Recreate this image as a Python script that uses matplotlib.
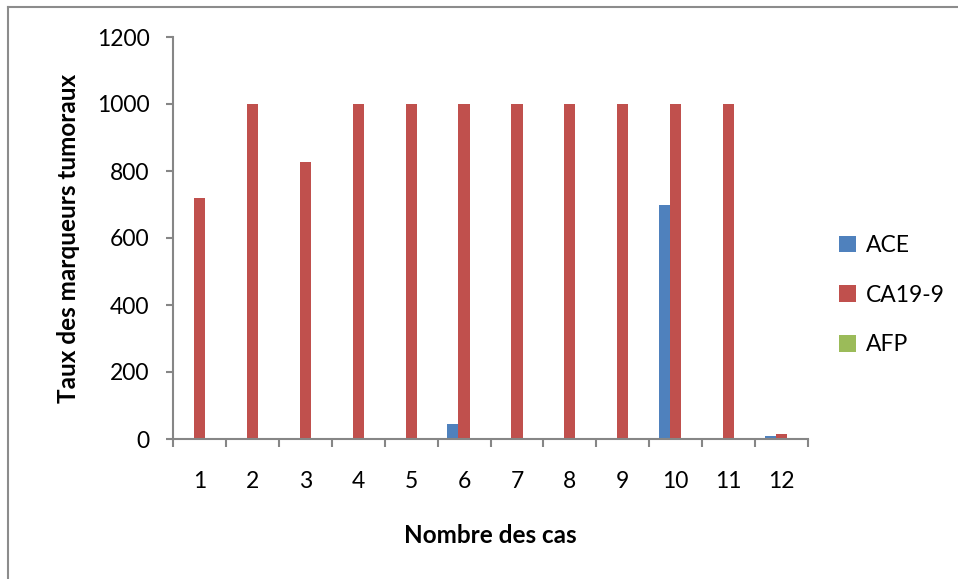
import matplotlib.pyplot as plt
import numpy as np
from matplotlib.lines import Line2D

cases = [str(i) for i in range(1, 13)]
ace = [0, 0, 0, 0, 1, 45, 0, 2, 0, 700, 0, 8]
ca199 = [720, 1000, 826, 1000, 1000, 1000, 1000, 1000, 1000, 1000, 1000, 14]
afp = [0, 0, 0, 0, 0, 2, 0, 0, 0, 0, 0, 0]

plt.rcParams['font.family'] = ['Lato', 'DejaVu Sans']

fig = plt.figure(figsize=(9.58, 5.79), dpi=100)
ax = fig.add_axes([173 / 958, 140 / 579, 635 / 958, 402 / 579])

x = np.arange(len(cases))
w = 0.21
ax.bar(x - w, ace, w, color='#4f81bd', label='ACE')
ax.bar(x, ca199, w, color='#c0504d', label='CA19-9')
ax.bar(x + w, afp, w, color='#9bbb59', label='AFP')

ax.set_xlim(-0.5, len(cases) - 0.5)
ax.set_ylim(0, 1200)
ax.set_yticks(range(0, 1201, 200))
ax.set_xticks(x)
ax.set_xticklabels(cases)
ax.set_xticks(np.arange(-0.5, len(cases), 1), minor=True)
ax.tick_params(axis='x', which='major', length=0, pad=23, labelsize=16.5)
ax.tick_params(axis='x', which='minor', length=6, color='#868686', width=1.5)
ax.tick_params(axis='y', length=5, color='#868686', width=1.5, pad=12, labelsize=16.5)

for s in ['top', 'right']:
    ax.spines[s].set_visible(False)
for s in ['left', 'bottom']:
    ax.spines[s].set_color('#868686')
    ax.spines[s].set_linewidth(1.5)

ax.set_ylabel('Taux des marqueurs tumoraux', fontsize=17.5, fontweight='bold', labelpad=12)
ax.set_xlabel('Nombre des cas', fontsize=17.5, fontweight='bold', labelpad=23)

ax.legend(loc='center left', bbox_to_anchor=(1.012, 0.358), frameon=False,
          fontsize=16.5, handlelength=0.75, handleheight=0.75, labelspacing=1.25,
          handletextpad=0.45, borderaxespad=0.6)

fig.add_artist(Line2D([8 / 958, 8 / 958], [0, 1 - 7 / 579], transform=fig.transFigure,
                      color='#8c8c8c', lw=1.5))
fig.add_artist(Line2D([8 / 958, 1], [1 - 7 / 579, 1 - 7 / 579], transform=fig.transFigure,
                      color='#8c8c8c', lw=1.5))

fig.savefig('out.png', dpi=100)
